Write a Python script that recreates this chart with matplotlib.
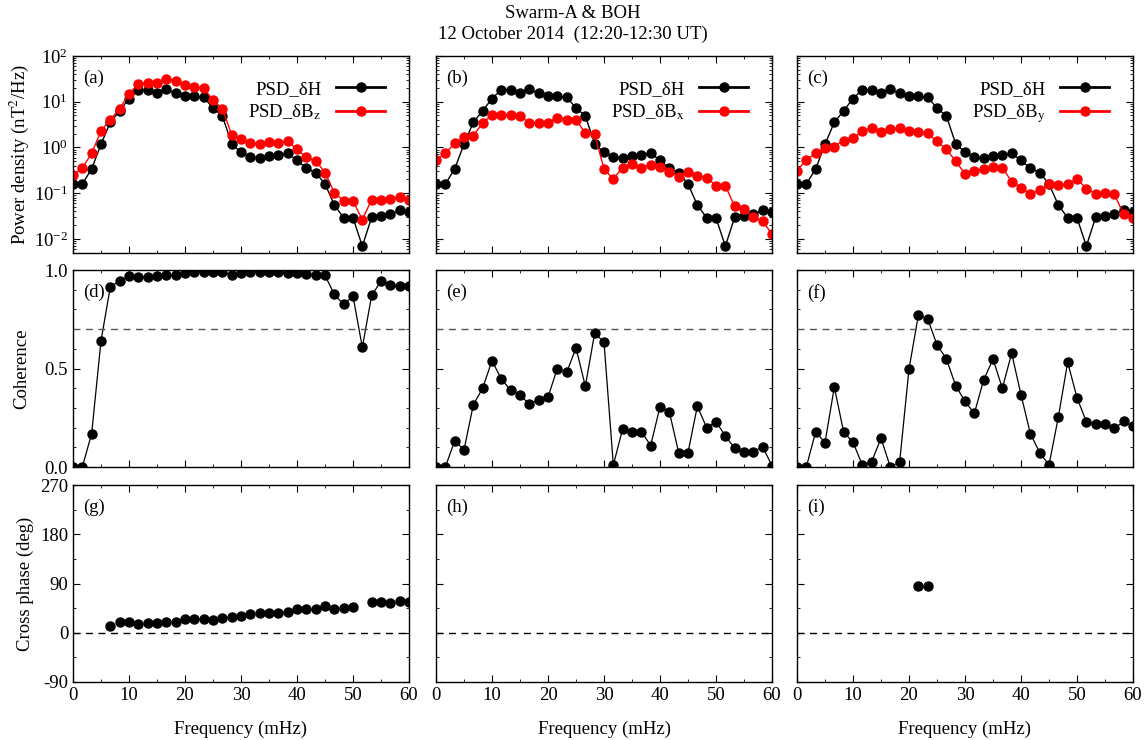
import numpy as np
import matplotlib
matplotlib.use("Agg")
import matplotlib.pyplot as plt
from matplotlib.ticker import MultipleLocator, LogLocator, NullFormatter, FixedLocator

plt.rcParams['font.family'] = ['Liberation Serif', 'DejaVu Serif']
plt.rcParams['mathtext.fontset'] = 'stix'
plt.rcParams['axes.unicode_minus'] = False

# ---------------- data ----------------
freq = np.arange(37) * (60.0 / 36.0)  # mHz

log_psd_H = [-0.80, -0.80, -0.47, 0.07, 0.55, 0.80, 1.07, 1.26, 1.26, 1.20,
             1.28, 1.18, 1.12, 1.12, 1.10, 0.86, 0.69, 0.08, -0.11, -0.21,
             -0.23, -0.18, -0.17, -0.13, -0.28, -0.46, -0.55, -0.80, -1.26, -1.54,
             -1.54, -2.16, -1.53, -1.49, -1.46, -1.38, -1.42]
log_psd_Bz = [-0.61, -0.45, -0.13, 0.36, 0.61, 0.85, 1.17, 1.39, 1.41, 1.40,
              1.50, 1.45, 1.37, 1.32, 1.29, 1.04, 0.85, 0.28, 0.18, 0.09,
              0.07, 0.12, 0.09, 0.14, -0.04, -0.22, -0.29, -0.55, -0.99, -1.17,
              -1.17, -1.58, -1.14, -1.14, -1.12, -1.08, -1.14]
log_psd_Bx = [-0.28, -0.13, 0.09, 0.23, 0.26, 0.53, 0.72, 0.72, 0.71, 0.69,
              0.54, 0.54, 0.54, 0.65, 0.61, 0.61, 0.31, 0.29, -0.47, -0.69,
              -0.44, -0.36, -0.44, -0.38, -0.42, -0.53, -0.64, -0.53, -0.62, -0.66,
              -0.84, -0.84, -1.29, -1.35, -1.52, -1.61, -1.90]
log_psd_By = [-0.51, -0.27, -0.13, -0.02, 0.02, 0.15, 0.20, 0.36, 0.43, 0.33,
              0.40, 0.43, 0.36, 0.34, 0.31, 0.13, -0.04, -0.30, -0.58, -0.51,
              -0.47, -0.42, -0.44, -0.75, -0.88, -1.02, -0.93, -0.81, -0.82, -0.81,
              -0.69, -0.90, -1.01, -1.00, -1.03, -1.46, -1.55]

coh_Bz = [0.0, 0.0, 0.17, 0.64, 0.915, 0.944, 0.97, 0.966, 0.963, 0.97,
          0.973, 0.973, 0.983, 0.988, 0.988, 0.988, 0.99, 0.973, 0.986, 0.988,
          0.988, 0.988, 0.988, 0.986, 0.986, 0.98, 0.975, 0.973, 0.876, 0.825,
          0.868, 0.607, 0.871, 0.944, 0.925, 0.919, 0.919]
coh_Bx = [0.0, 0.0, 0.133, 0.087, 0.316, 0.40, 0.54, 0.446, 0.39, 0.364,
          0.32, 0.342, 0.355, 0.50, 0.48, 0.605, 0.41, 0.68, 0.633, 0.01,
          0.194, 0.177, 0.18, 0.109, 0.306, 0.28, 0.073, 0.073, 0.308, 0.20,
          0.23, 0.158, 0.095, 0.078, 0.078, 0.102, 0.007]
coh_By = [0.0, 0.0, 0.179, 0.124, 0.406, 0.177, 0.126, 0.01, 0.027, 0.146,
          0.0, 0.026, 0.497, 0.77, 0.753, 0.62, 0.55, 0.413, 0.333, 0.272,
          0.442, 0.548, 0.40, 0.577, 0.367, 0.17, 0.073, 0.01, 0.253, 0.532,
          0.352, 0.23, 0.219, 0.219, 0.196, 0.231, 0.207]

# cross phase (NaN where coherence is below threshold)
nan = np.nan
phase_Bz = [nan, nan, nan, nan, 11.7, 19.7, 19.1, 15.4, 17.2, 17.2,
            19.1, 19.1, 25.2, 25.8, 25.8, 23.4, 27.7, 29.5, 30.2, 33.8,
            36.9, 36.9, 36.9, 38.8, 42.5, 43.7, 43.7, 48.6, 43.7, 44.9,
            46.2, nan, 56.0, 55.4, 54.2, 57.2, 55.4]
phase_Bx = [nan] * 37
phase_By = [nan] * 13 + [86.0, 85.5] + [nan] * 22

comp_labels = ['z', 'x', 'y']
panel_letters = [['(a)', '(b)', '(c)'], ['(d)', '(e)', '(f)'], ['(g)', '(h)', '(i)']]
psd_comp = [log_psd_Bz, log_psd_Bx, log_psd_By]
coh_comp = [coh_Bz, coh_Bx, coh_By]
phase_comp = [phase_Bz, phase_Bx, phase_By]

# ---------------- figure ----------------
W, H = 1146, 740
fig = plt.figure(figsize=(W / 100, H / 100), dpi=100)

lefts = [73, 436, 797]
width = 336
tops = [56, 270, 485]
height = 197

fs = 13.5

def style(ax):
    ax.tick_params(which='both', direction='in', top=True, right=True, labelsize=fs)
    ax.tick_params(which='major', length=5, width=0.8)
    ax.tick_params(which='minor', length=2.5, width=0.6)
    ax.set_xlim(0, 60)
    ax.xaxis.set_major_locator(MultipleLocator(10))
    ax.xaxis.set_minor_locator(MultipleLocator(5))
    for s in ax.spines.values():
        s.set_linewidth(1.0)

axes = [[None] * 3 for _ in range(3)]
for r in range(3):
    for c in range(3):
        ax = fig.add_axes([lefts[c] / W, 1 - (tops[r] + height) / H, width / W, height / H])
        style(ax)
        axes[r][c] = ax

for c in range(3):
    # PSD
    ax = axes[0][c]
    ax.set_yscale('log')
    ax.plot(freq, 10 ** np.array(log_psd_H), '-o', color='black', lw=1.0, ms=6.5,
            label='PSD_δH')
    ax.plot(freq, 10 ** np.array(psd_comp[c]), '-o', color='#ff0000', lw=1.0, ms=6.5,
            label='PSD_δB$_{\\mathrm{' + comp_labels[c] + '}}$')
    ax.set_ylim(10 ** -2.31, 1e2)
    ax.yaxis.set_major_locator(LogLocator(base=10, numticks=10))
    ax.yaxis.set_minor_locator(LogLocator(base=10, subs=np.arange(2, 10), numticks=20))
    ax.yaxis.set_minor_formatter(NullFormatter())
    leg = ax.legend(loc='upper right', frameon=False, markerfirst=False, fontsize=fs,
                    handlelength=2.6, borderaxespad=0.6, labelspacing=0.25,
                    bbox_to_anchor=(0.985, 0.97))
    for h in leg.legend_handles:
        h.set_linewidth(2.0)
    ax.set_xticklabels([])
    # coherence
    ax = axes[1][c]
    ax.plot(freq, coh_comp[c], '-o', color='black', lw=0.9, ms=6.5)
    ax.axhline(0.7, color='#555555', lw=1.0, ls=(0, (5, 4)))
    ax.set_ylim(0, 1.0)
    ax.yaxis.set_major_locator(FixedLocator([0.0, 0.5, 1.0]))
    ax.yaxis.set_minor_locator(MultipleLocator(0.1))
    ax.set_xticklabels([])
    # phase
    ax = axes[2][c]
    ax.plot(freq, phase_comp[c], 'o', color='black', ms=6.5)
    ax.axhline(0, color='black', lw=1.0, ls=(0, (5, 4)))
    ax.set_ylim(-90, 270)
    ax.yaxis.set_major_locator(MultipleLocator(90))
    ax.yaxis.set_minor_locator(MultipleLocator(45))
    ax.set_xlabel('Frequency (mHz)', fontsize=fs, labelpad=12)

for r in range(3):
    for c in range(3):
        ax = axes[r][c]
        ax.text(0.03, 0.93, panel_letters[r][c], transform=ax.transAxes,
                fontsize=fs, va='top', ha='left')
        if c > 0:
            ax.set_yticklabels([])

axes[1][0].yaxis.set_major_formatter(matplotlib.ticker.FormatStrFormatter('%.1f'))

axes[0][0].set_ylabel('Power density (nT$^2$/Hz)', fontsize=fs, labelpad=2)
axes[1][0].set_ylabel('Coherence', fontsize=fs, labelpad=10)
axes[2][0].set_ylabel('Cross phase (deg)', fontsize=fs, labelpad=4)

fig.text(0.5, 1 - 13 / H, 'Swarm-A & BOH', ha='center', va='center', fontsize=fs)
fig.text(0.5, 1 - 34 / H, '12 October 2014  (12:20-12:30 UT)', ha='center', va='center',
         fontsize=fs)

fig.savefig('out.png', dpi=100)
